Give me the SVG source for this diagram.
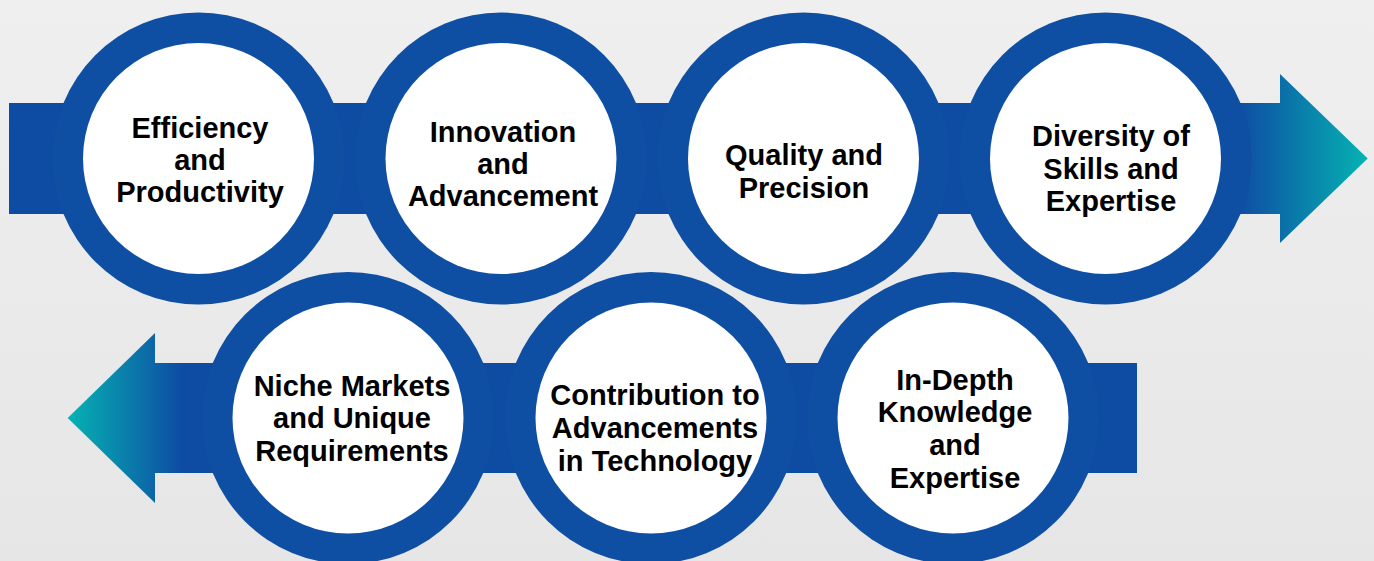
<svg xmlns="http://www.w3.org/2000/svg" width="1374" height="561" viewBox="0 0 1374 561">
<defs>
<linearGradient id="bg" x1="0" y1="0" x2="0" y2="1">
<stop offset="0" stop-color="#efefef"/>
<stop offset="1" stop-color="#e6e6e6"/>
</linearGradient>
<linearGradient id="gr" gradientUnits="userSpaceOnUse" x1="1238" y1="0" x2="1368" y2="0">
<stop offset="0" stop-color="#0e4ca3"/>
<stop offset="1" stop-color="#05b3b3"/>
</linearGradient>
<linearGradient id="gl" gradientUnits="userSpaceOnUse" x1="182" y1="0" x2="67" y2="0">
<stop offset="0" stop-color="#0e4ca3"/>
<stop offset="1" stop-color="#05b3b3"/>
</linearGradient>
<style>
.ring{fill:#0e4ea3}
.core{fill:#ffffff}
.t{font-family:"Liberation Sans",Arial,sans-serif;font-weight:bold;font-size:29px;fill:#000;text-anchor:middle}
</style>
</defs>
<rect width="1374" height="561" fill="url(#bg)"/>
<g id="connectors">
<polygon points="9,103 1280,103 1280,74 1367.7,158.5 1280,243 1280,214 9,214" fill="url(#gr)"/>
<polygon points="1137,363 155,363 155,333 67.7,418 155,503 155,473 1137,473" fill="url(#gl)"/>
</g>
<g id="n1"><circle class="ring" cx="198.5" cy="158.5" r="146"/><circle class="core" cx="198.5" cy="158.5" r="115.5"/>
<text class="t" x="200"><tspan x="200" y="137.5">Efficiency</tspan><tspan x="200" y="169.5">and</tspan><tspan x="200" y="201.5">Productivity</tspan></text></g>
<g id="n2"><circle class="ring" cx="501" cy="158.5" r="146"/><circle class="core" cx="501" cy="158.5" r="115.5"/>
<text class="t"><tspan x="503" y="141.5">Innovation</tspan><tspan x="503" y="173.5">and</tspan><tspan x="503" y="205.5">Advancement</tspan></text></g>
<g id="n3"><circle class="ring" cx="803.5" cy="158.5" r="146"/><circle class="core" cx="803.5" cy="158.5" r="115.5"/>
<text class="t"><tspan x="804" y="165">Quality and</tspan><tspan x="804" y="198">Precision</tspan></text></g>
<g id="n4"><circle class="ring" cx="1105.5" cy="158.5" r="146"/><circle class="core" cx="1105.5" cy="158.5" r="115.5"/>
<text class="t"><tspan x="1111" y="145.5">Diversity of</tspan><tspan x="1111" y="178.5">Skills and</tspan><tspan x="1111" y="210.5">Expertise</tspan></text></g>
<g id="n5"><circle class="ring" cx="348" cy="418" r="146"/><circle class="core" cx="348" cy="418" r="115.5"/>
<text class="t"><tspan x="352" y="396">Niche Markets</tspan><tspan x="352" y="428">and Unique</tspan><tspan x="352" y="461">Requirements</tspan></text></g>
<g id="n6"><circle class="ring" cx="651" cy="418" r="146"/><circle class="core" cx="651" cy="418" r="115.5"/>
<text class="t"><tspan x="655" y="405">Contribution to</tspan><tspan x="655" y="438">Advancements</tspan><tspan x="655" y="471">in Technology</tspan></text></g>
<g id="n7"><circle class="ring" cx="953" cy="418" r="146"/><circle class="core" cx="953" cy="418" r="115.5"/>
<text class="t"><tspan x="955" y="389.5">In-Depth</tspan><tspan x="955" y="421.5">Knowledge</tspan><tspan x="955" y="454.5">and</tspan><tspan x="955" y="487.5">Expertise</tspan></text></g>
</svg>
